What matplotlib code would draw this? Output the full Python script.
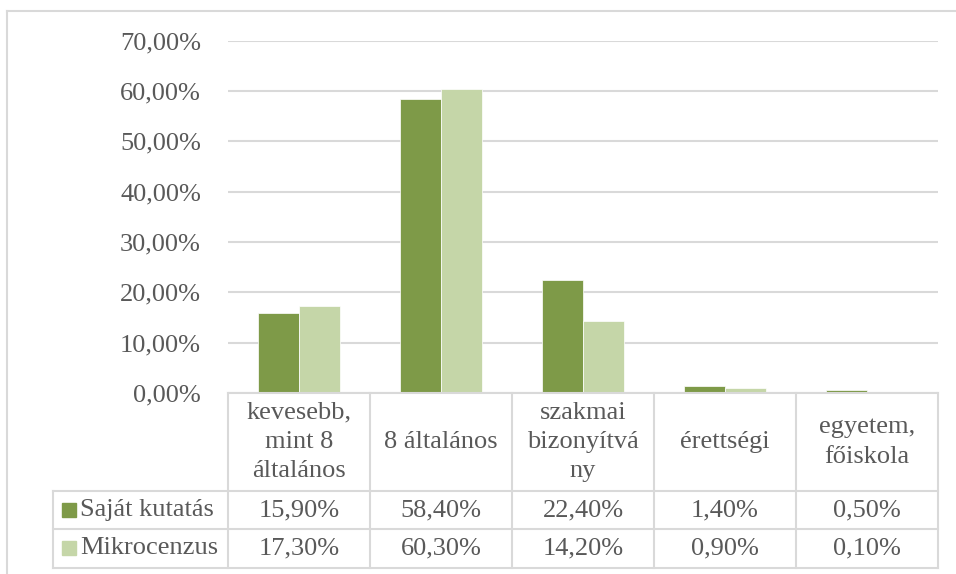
import numpy as np
import matplotlib
matplotlib.use('Agg')
import matplotlib.pyplot as plt
from matplotlib.ticker import FuncFormatter

categories = ['kevesebb,\nmint 8\náltalános', '8 általános',
              'szakmai\nbizonyítvá\nny', 'érettségi', 'egyetem,\nfőiskola']
series_names = ['Saját kutatás', 'Mikrocenzus']
sajat = [15.9, 58.4, 22.4, 1.4, 0.5]
mikro = [17.3, 60.3, 14.2, 0.9, 0.1]
yticks = [0, 10, 20, 30, 40, 50, 60, 70]
colors = ['#7E9A48', '#C5D6A8']

text_col = '#595959'
grid_col = '#D9D9D9'
font = 'Liberation Serif'
fs = 19

W, H = 956, 574
fig = plt.figure(figsize=(W / 100, H / 100), dpi=100)

# plot area in pixels
px_l, px_r, px_t, px_b = 228, 938, 40.5, 393
ax = fig.add_axes([px_l / W, 1 - px_b / H, (px_r - px_l) / W, (px_b - px_t) / H])

x = np.arange(len(categories))
bw = 0.29
ax.bar(x - bw / 2, sajat, bw, color=colors[0], edgecolor='white', linewidth=0.5, zorder=3)
ax.bar(x + bw / 2, mikro, bw, color=colors[1], edgecolor='white', linewidth=0.5, zorder=3)
ax.set_xlim(-0.5, len(categories) - 0.5)
ax.set_ylim(0, 70)
ax.set_yticks(yticks)
ax.yaxis.set_major_formatter(FuncFormatter(lambda v, p: f'{v:.2f}%'.replace('.', ',')))
ax.grid(axis='y', color=grid_col, linewidth=1.5, zorder=0)
ax.set_xticks([])
for s in ax.spines.values():
    s.set_visible(False)
ax.tick_params(axis='y', length=0, pad=19.5, labelcolor=text_col, labelsize=fs)
for lbl in ax.get_yticklabels():
    lbl.set_fontfamily(font)

# overlay in pixel coordinates for the data table and outer frame
ov = fig.add_axes([0, 0, 1, 1], zorder=5)
ov.set_xlim(0, W)
ov.set_ylim(H, 0)
ov.axis('off')
ov.patch.set_alpha(0)

# outer frame (left and top visible)
ov.plot([7.5, 7.5], [11, H], color=grid_col, lw=1.5)
ov.plot([7.5, W], [11, 11], color=grid_col, lw=1.5)

col_w = (px_r - px_l) / len(categories)
row_y = [px_b, 491, 529, 567.5]
tbl_left = 53

ov.plot([px_l, px_r], [row_y[0], row_y[0]], color=grid_col, lw=1.5)
for yy in row_y[1:]:
    ov.plot([tbl_left, px_r], [yy, yy], color=grid_col, lw=1.5)
for i in range(len(categories) + 1):
    xx = px_l + i * col_w
    ov.plot([xx, xx], [row_y[0], row_y[-1]], color=grid_col, lw=1.5)
ov.plot([tbl_left, tbl_left], [row_y[1], row_y[-1]], color=grid_col, lw=1.5)

for i, cat in enumerate(categories):
    cx = px_l + (i + 0.5) * col_w
    ov.text(cx, (row_y[0] + row_y[1]) / 2, cat, ha='center', va='center',
            fontsize=fs, color=text_col, family=font, linespacing=1.42)

def pct(v):
    return f'{v:.2f}%'.replace('.', ',')

for r, (name, vals) in enumerate(zip(series_names, [sajat, mikro])):
    cy = (row_y[r + 1] + row_y[r + 2]) / 2
    ov.add_patch(plt.Rectangle((62, cy - 7), 14, 14, color=colors[r]))
    ov.text(80, cy, name, ha='left', va='center', fontsize=fs, color=text_col, family=font)
    for i, v in enumerate(vals):
        cx = px_l + (i + 0.5) * col_w
        ov.text(cx, cy, pct(v), ha='center', va='center', fontsize=fs, color=text_col, family=font)

fig.savefig('out.png', dpi=100)
